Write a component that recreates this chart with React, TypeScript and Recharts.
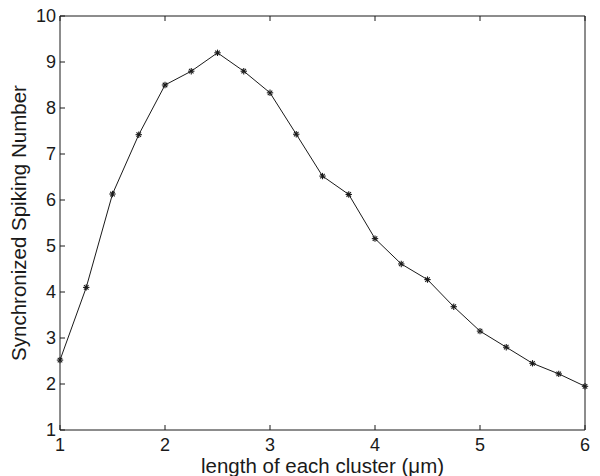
import React from 'react';
import { LineChart, Line, XAxis, YAxis } from 'recharts';

const clusterLength = [1, 1.25, 1.5, 1.75, 2, 2.25, 2.5, 2.75, 3, 3.25, 3.5, 3.75, 4, 4.25, 4.5, 4.75, 5, 5.25, 5.5, 5.75, 6];
const spikingNumber = [2.52, 4.1, 6.13, 7.42, 8.5, 8.8, 9.2, 8.8, 8.33, 7.43, 6.52, 6.12, 5.16, 4.61, 4.27, 3.68, 3.15, 2.8, 2.45, 2.22, 1.95];
const xTicks = [1, 2, 3, 4, 5, 6];
const yTicks = [1, 2, 3, 4, 5, 6, 7, 8, 9, 10];

const data = clusterLength.map((x, i) => ({ x, y: spikingNumber[i] }));

const FONT = '"Liberation Sans", Arial, Helvetica, sans-serif';
const INK = '#1a1a1a';
const TICK_LEN = 5;

const Asterisk = (props: any) => {
  const { cx, cy } = props;
  if (cx == null || cy == null) return null;
  const r = 3.2;
  const d = r * 0.707;
  return (
    <g stroke={INK} strokeWidth={1.1}>
      <line x1={cx - r} y1={cy} x2={cx + r} y2={cy} />
      <line x1={cx} y1={cy - r} x2={cx} y2={cy + r} />
      <line x1={cx - d} y1={cy - d} x2={cx + d} y2={cy + d} />
      <line x1={cx - d} y1={cy + d} x2={cx + d} y2={cy - d} />
    </g>
  );
};

const BottomTick = (props: any) => {
  const { x, y, payload } = props;
  return (
    <g>
      <line x1={x} y1={y} x2={x} y2={y - TICK_LEN} stroke={INK} strokeWidth={1} />
      <text x={x} y={y + 21} textAnchor="middle" fontSize={18} fontFamily={FONT} fill={INK}>
        {payload.value}
      </text>
    </g>
  );
};

const LeftTick = (props: any) => {
  const { x, y, payload } = props;
  return (
    <g>
      <line x1={x} y1={y} x2={x + TICK_LEN} y2={y} stroke={INK} strokeWidth={1} />
      <text x={x - 4} y={y} dy="0.36em" textAnchor="end" fontSize={18} fontFamily={FONT} fill={INK}>
        {payload.value}
      </text>
    </g>
  );
};

const TopTick = (props: any) => {
  const { x, y } = props;
  return <line x1={x} y1={y} x2={x} y2={y + TICK_LEN} stroke={INK} strokeWidth={1} />;
};

const RightTick = (props: any) => {
  const { x, y } = props;
  return <line x1={x} y1={y} x2={x - TICK_LEN} y2={y} stroke={INK} strokeWidth={1} />;
};

export default function App() {
  return (
    <div style={{ position: 'absolute', left: 0, top: 0, width: 600, height: 476, background: '#fff' }}>
      <LineChart width={600} height={476} data={data} margin={{ top: 15, right: 14, bottom: 0, left: 0 }}>
        <XAxis
          xAxisId="b"
          dataKey="x"
          type="number"
          domain={[1, 6]}
          ticks={xTicks}
          orientation="bottom"
          height={46}
          stroke={INK}
          tickLine={false}
          tickSize={0}
          tickMargin={0}
          tick={<BottomTick />}
          label={{ value: 'length of each cluster (μm)', position: 'insideBottom', offset: 3, style: { fontSize: 20.5, fill: INK, fontFamily: FONT } }}
        />
        <XAxis
          xAxisId="t"
          dataKey="x"
          type="number"
          domain={[1, 6]}
          ticks={xTicks}
          orientation="top"
          height={1}
          stroke={INK}
          tickLine={false}
          tickSize={0}
          tickMargin={0}
          tick={<TopTick />}
        />
        <YAxis
          yAxisId="l"
          type="number"
          domain={[1, 10]}
          ticks={yTicks}
          orientation="left"
          width={60}
          stroke={INK}
          tickLine={false}
          tickSize={0}
          tickMargin={0}
          tick={<LeftTick />}
          label={{ value: 'Synchronized Spiking Number', angle: -90, position: 'insideLeft', offset: 19, style: { fontSize: 20.5, fill: INK, fontFamily: FONT, textAnchor: 'middle' } }}
        />
        <YAxis
          yAxisId="r"
          type="number"
          domain={[1, 10]}
          ticks={yTicks}
          orientation="right"
          width={1}
          stroke={INK}
          tickLine={false}
          tickSize={0}
          tickMargin={0}
          tick={<RightTick />}
        />
        <Line
          xAxisId="b"
          yAxisId="l"
          type="linear"
          dataKey="y"
          stroke={INK}
          strokeWidth={1}
          dot={<Asterisk />}
          activeDot={false}
          isAnimationActive={false}
        />
      </LineChart>
    </div>
  );
}
